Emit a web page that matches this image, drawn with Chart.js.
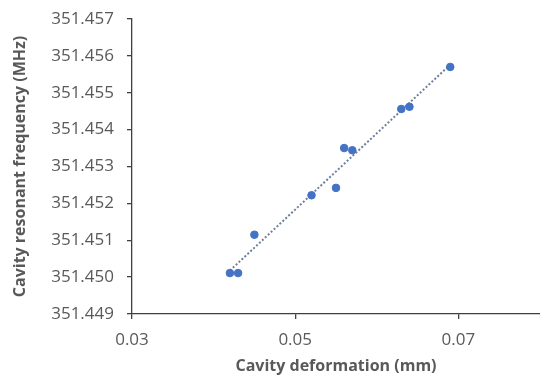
<!DOCTYPE html>
<html>
<head>
<meta charset="utf-8">
<script src="https://cdn.jsdelivr.net/npm/chart.js@4.4.1/dist/chart.umd.min.js"></script>
<style>
  html, body { margin: 0; padding: 0; background: #ffffff; }
  #wrap { width: 540px; height: 376px; position: relative; }
</style>
</head>
<body>
<div id="wrap"><canvas id="c" width="540" height="376"></canvas></div>
<script>
// ---- data ----
const deformation = [0.042, 0.043, 0.045, 0.052, 0.055, 0.056, 0.057, 0.063, 0.064, 0.069];
const frequency   = [351.45011, 351.45011, 351.45115, 351.45222, 351.45242, 351.45350, 351.45344, 351.45456, 351.45462, 351.45570];
const xTickValues = [0.03, 0.05, 0.07];
const yTickValues = [351.449, 351.450, 351.451, 351.452, 351.453, 351.454, 351.455, 351.456, 351.457];
const xTitle = 'Cavity deformation (mm)';
const yTitle = 'Cavity resonant frequency (MHz)';

// linear least-squares trendline (as the spreadsheet trendline does)
const n = deformation.length;
const mx = deformation.reduce((a, b) => a + b, 0) / n;
const my = frequency.reduce((a, b) => a + b, 0) / n;
let sxy = 0, sxx = 0;
for (let i = 0; i < n; i++) { sxy += (deformation[i] - mx) * (frequency[i] - my); sxx += (deformation[i] - mx) ** 2; }
const slope = sxy / sxx, intercept = my - slope * mx;
const xMin = Math.min(...deformation), xMax = Math.max(...deformation);
const trend = [{ x: xMin, y: intercept + slope * xMin }, { x: xMax, y: intercept + slope * xMax }];

const points = deformation.map((x, i) => ({ x: x, y: frequency[i] }));

const textColor = '#595959';
const axisColor = '#404040';
const tickFont = { family: 'Open Sans', size: 17 };
const titleFont = { family: 'Open Sans', size: 16, weight: 'bold' };

new Chart(document.getElementById('c'), {
  type: 'scatter',
  data: {
    datasets: [
      {
        label: 'Measured',
        data: points,
        backgroundColor: '#4472C4',
        borderColor: '#4472C4',
        pointRadius: 3.8,
        pointHoverRadius: 3.8,
        order: 1
      },
      {
        label: 'Trend',
        type: 'line',
        data: trend,
        borderColor: '#6E7E9C',
        borderWidth: 2,
        borderDash: [2, 2],
        pointRadius: 0,
        fill: false,
        order: 2
      }
    ]
  },
  options: {
    responsive: false,
    animation: false,
    layout: { autoPadding: false, padding: { left: 0, right: -2, top: 19, bottom: 0 } },
    plugins: { legend: { display: false }, tooltip: { enabled: false } },
    scales: {
      x: {
        type: 'linear',
        min: 0.03,
        max: 0.08,
        afterBuildTicks: (s) => { s.ticks = xTickValues.map(v => ({ value: v })); },
        afterFit: (s) => { s.height = 62; s.paddingLeft = 0; s.paddingRight = 0; },
        grid: { display: true, drawOnChartArea: false, drawTicks: true, tickLength: 5, color: axisColor, lineWidth: 1.3 },
        border: { display: true, color: axisColor, width: 1.3 },
        ticks: { color: textColor, font: tickFont, padding: 11, maxRotation: 0, callback: (v) => v.toFixed(2) },
        title: { display: true, text: xTitle, color: textColor, font: titleFont, padding: { top: 0, bottom: 0 } }
      },
      y: {
        type: 'linear',
        min: 351.449,
        max: 351.457,
        afterBuildTicks: (s) => { s.ticks = yTickValues.map(v => ({ value: v })); },
        afterFit: (s) => { s.width = 132; s.paddingTop = 0; s.paddingBottom = 0; },
        grid: { display: true, drawOnChartArea: false, drawTicks: true, tickLength: 5, color: axisColor, lineWidth: 1.3 },
        border: { display: true, color: axisColor, width: 1.3 },
        ticks: { color: textColor, font: tickFont, padding: 13, callback: (v) => v.toFixed(3) },
        title: { display: true, text: yTitle, color: textColor, font: titleFont, padding: { top: 11, bottom: 0 } }
      }
    }
  }
});
</script>
</body>
</html>
